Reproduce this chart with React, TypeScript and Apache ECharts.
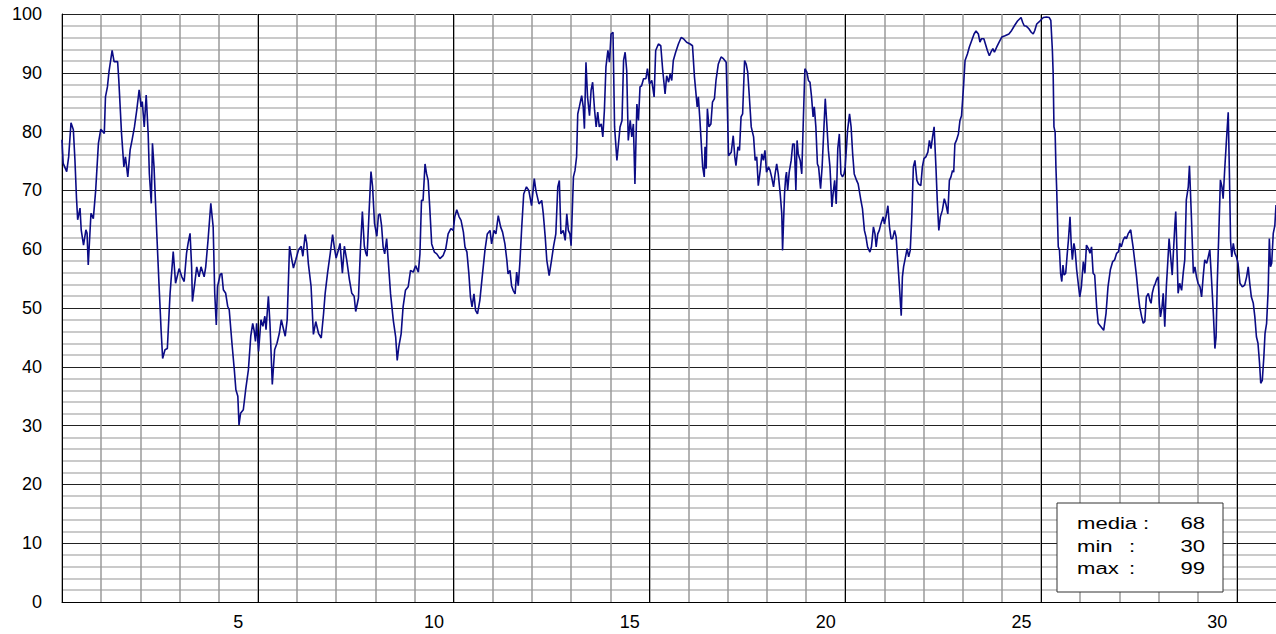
import React, { useEffect, useRef } from 'react';
import * as echarts from 'echarts';

// Day labels (categories) for the bottom axis
const dayLabels = ['1','2','3','4','5','6','7','8','9','10','11','12','13','14','15','16','17','18','19','20','21','22','23','24','25','26','27','28','29','30','31'];

// y-axis range / ticks
const yMin = 0;
const yMax = 100;
const yStep = 10;

// summary box
const statLabels = ['media', 'min', 'max'];
const statValues = [68, 30, 99];

// series: [day offset, value]
const days01to04 = [
  [0,78.6],[0.03,74.6],[0.12,73.2],[0.17,75.7],[0.23,81.5],[0.29,80.3],[0.33,75.2],[0.37,68.7],[0.40,65],[0.46,67],[0.49,63.3],[0.55,60.7],[0.61,63.3],[0.64,62.7],[0.67,57.3],[0.74,66.1],[0.80,65.2],[0.86,70],[0.93,78],[0.99,80.4],
  [1.08,79.7],[1.11,85.9],[1.16,87.6],[1.20,90.2],[1.28,93.8],[1.33,91.9],[1.42,91.9],[1.45,88.8],[1.52,79.7],[1.58,74],[1.62,75.7],[1.68,72.3],[1.74,76.9],[1.79,78.6],[1.85,80.8],[1.91,83.7],[1.97,87.1],
  [2.02,84.2],[2.05,85.1],[2.10,80.8],[2.15,86.2],[2.20,79.7],[2.23,72.9],[2.28,67.8],[2.31,78],[2.35,74],[2.42,62.7],[2.48,53.6],[2.53,46.3],[2.57,41.4],[2.63,42.9],[2.69,43.1],[2.76,52.5],[2.84,59.6],[2.90,54.2],[2.99,56.7],
  [3.06,55.3],[3.12,54.5],[3.18,59.3],[3.22,61],[3.27,62.7],[3.31,57],[3.33,51.1],[3.39,54.2],[3.44,57],[3.50,55.3],[3.55,57],[3.63,55.3],[3.67,57],[3.73,61.6],[3.80,67.8],[3.86,63.8],[3.90,52.5],[3.94,47.1],[3.97,53.6]
];

const days05to08 = [
  [4.04,55.7],[4.08,55.9],[4.12,53.1],[4.18,52.5],[4.23,50.3],[4.27,49.7],[4.34,44],[4.40,39.5],[4.44,36.1],[4.49,35],[4.52,30.1],[4.56,32.1],[4.63,32.7],[4.69,36.1],[4.76,39.5],[4.82,45.2],[4.87,47.4],[4.91,46],[4.94,44.3],[4.97,47.4],
  [5.02,42.6],[5.08,48],[5.13,46.9],[5.18,48.6],[5.21,46.3],[5.27,52],[5.31,47.4],[5.37,37],[5.43,42.9],[5.49,44],[5.55,45.7],[5.60,48],[5.66,46.3],[5.70,45.2],[5.75,48],[5.81,60.5],[5.87,58.2],[5.91,56.8],[5.97,58.2],
  [6.04,59.9],[6.11,60.5],[6.15,58.8],[6.21,62.5],[6.25,61],[6.29,57.6],[6.36,53.7],[6.42,45.5],[6.48,47.7],[6.55,45.7],[6.62,44.9],[6.68,49.1],[6.72,52.5],[6.78,55.9],[6.85,59.3],[6.91,62.5],[6.95,60.5],
  [7.0,58.5],[7.06,59.9],[7.10,61],[7.16,55.9],[7.21,60.5],[7.27,58.2],[7.34,54.8],[7.40,52.5],[7.46,52],[7.50,49.4],[7.57,51.7],[7.62,59.9],[7.67,66.4],[7.72,60.5],[7.76,59.3],[7.79,58.8],[7.84,66.1],[7.89,73.2],[7.93,70.7],[7.98,64.4]
];

const days09to12 = [
  [8.04,62.2],[8.08,65.8],[8.12,66],[8.16,64],[8.20,60.4],[8.24,59.2],[8.29,61.8],[8.33,58.1],[8.39,52.4],[8.46,47.9],[8.52,45.1],[8.56,41.1],[8.60,43.4],[8.66,45.6],[8.71,50.2],[8.77,53],[8.84,53.6],[8.90,56.4],[8.97,56.1],
  [9.03,57.2],[9.10,56.1],[9.14,59.2],[9.18,68.3],[9.22,68.3],[9.27,74.5],[9.31,72.8],[9.35,71.7],[9.39,67.2],[9.44,60.9],[9.51,59.5],[9.57,59.2],[9.65,58.4],[9.73,58.9],[9.80,60.1],[9.86,62.6],[9.93,63.5],[9.99,63.2],
  [10.03,65.5],[10.08,66.7],[10.14,65.5],[10.19,64.9],[10.25,62.9],[10.29,60.4],[10.34,59.5],[10.39,55.8],[10.43,51.9],[10.47,50.2],[10.52,52.4],[10.56,49.6],[10.61,49],[10.67,51.3],[10.73,55.3],[10.80,59.8],[10.86,62.6],[10.93,63.2],[10.97,60.9],
  [11.03,63.2],[11.08,62.6],[11.14,65.7],[11.20,63.8],[11.25,62.9],[11.31,60.9],[11.36,58.1],[11.39,55.8],[11.44,56.4],[11.48,53.8],[11.52,53],[11.57,52.4],[11.61,56.1],[11.65,53.8],[11.69,57.5],[11.74,63.8],[11.79,69.4],[11.86,70.6],[11.92,70],[11.99,67.4]
];

const days13to16 = [
  [12.06,72],[12.10,70],[12.18,67.7],[12.25,68.3],[12.29,66],[12.34,62],[12.38,58.1],[12.44,55.5],[12.50,58.1],[12.55,60.4],[12.61,62.6],[12.66,70.6],[12.70,71.7],[12.74,62.6],[12.80,63.2],[12.85,61.5],[12.89,66],[12.93,63.2],[12.97,62.6],
  [13.0,60.6],[13.06,72.3],[13.10,73.4],[13.14,75.7],[13.17,83],[13.21,84.2],[13.27,86.1],[13.31,84.2],[13.34,80.5],[13.38,91.8],[13.42,85.9],[13.47,82.7],[13.51,87],[13.55,88.4],[13.60,83.6],[13.64,80.8],[13.68,83.3],[13.72,80.8],[13.77,81.3],[13.81,79.1],[13.85,83.6],[13.89,91],[13.94,93.8],[13.98,91.8],
  [14.02,96.6],[14.07,96.9],[14.11,80.8],[14.17,75.1],[14.21,77.9],[14.25,80.8],[14.30,81.9],[14.34,92.1],[14.38,93.5],[14.42,90.4],[14.46,78.5],[14.51,81.9],[14.55,79.1],[14.59,81.3],[14.63,71.1],[14.68,84.7],[14.72,81.9],[14.76,87.6],[14.80,87.8],[14.85,89],[14.91,89],[14.95,90.7],
  [15.0,88.1],[15.06,88.7],[15.12,85.9],[15.16,93.8],[15.23,94.9],[15.29,94.6],[15.34,90.4],[15.40,86.4],[15.44,89.5],[15.49,88.4],[15.53,89.8],[15.57,88.7],[15.61,92.1],[15.67,93.5],[15.74,94.9],[15.81,96],[15.87,95.8],[15.95,95.2],
  [16.04,94.9],[16.10,94.6],[16.15,89.3]
];

const days17to20 = [
  [16.22,84.2],[16.25,85.9],[16.29,81.9],[16.34,76.2],[16.36,74],[16.40,72.3],[16.42,77.4],[16.45,73.7],[16.48,83.9],[16.52,80.8],[16.57,81.3],[16.61,85],[16.66,85.6],[16.70,88.7],[16.76,91.5],[16.83,92.7],[16.89,92.4],[16.96,91.8],[16.99,84.2],
  [17.02,75.9],[17.09,76.5],[17.14,79.3],[17.18,75.7],[17.21,74.2],[17.26,77.4],[17.30,76.8],[17.34,82.5],[17.38,83],[17.43,92.1],[17.47,91.5],[17.51,90.1],[17.55,86.1],[17.60,80.8],[17.66,79.1],[17.70,75.1],[17.74,75.7],[17.78,70.8],[17.83,73.4],[17.87,76.2],[17.91,75.1],[17.95,76.8],[17.99,73.1],
  [18.04,74],[18.08,73.4],[18.12,72.3],[18.17,70.6],[18.21,72.8],[18.25,74.5],[18.29,72.8],[18.34,69.4],[18.38,66],[18.40,59.8],[18.45,69.4],[18.48,72.3],[18.50,73.1],[18.53,70],[18.57,73.1],[18.62,75.1],[18.66,77.9],[18.70,77.9],[18.74,70],[18.77,78.5],[18.80,76.2],[18.85,75.1],[18.89,72.8],[18.93,81.9],[18.97,90.7],
  [19.02,90.1],[19.06,88.7],[19.10,88.4],[19.14,85.9],[19.18,82.5],[19.21,84.2],[19.25,80.8],[19.29,74.5],[19.32,74],[19.37,70.3],[19.41,74],[19.49,85.6],[19.53,81.3],[19.57,76.8],[19.61,74],[19.66,67.2],[19.69,69.4],[19.73,71.7],[19.77,67.7],[19.81,77.1],[19.85,79.6],[19.89,72.8],[19.93,72.3],[19.97,72.8],
  [20.0,74],[20.06,80.2],[20.11,83],[20.15,80.8],[20.19,76.2],[20.23,72.8],[20.29,71.7],[20.33,71.1],[20.38,69.1]
];

const days21to25 = [
  [20.40,68.3],[20.44,66.9],[20.49,63.2],[20.53,62.1],[20.57,60.4],[20.63,59.5],[20.67,60.4],[20.72,63.8],[20.76,62.6],[20.79,60.4],[20.83,62.6],[20.87,63.2],[20.91,64.3],[20.97,65.5],
  [21.0,64.3],[21.04,65.5],[21.09,67.4],[21.13,63.8],[21.17,61.8],[21.21,61.8],[21.26,63.2],[21.30,62.1],[21.34,58.1],[21.38,54.1],[21.43,48.7],[21.46,55.3],[21.49,57],[21.54,58.7],[21.58,60.1],[21.62,58.7],[21.66,59.8],[21.70,65.5],[21.74,74],[21.78,75.1],[21.83,71.7],[21.87,71.1],[21.93,70.8],[21.97,74],
  [22.01,75.4],[22.06,75.7],[22.11,76.5],[22.15,78.5],[22.19,77.1],[22.23,79.1],[22.27,80.8],[22.32,73.4],[22.35,68.3],[22.39,63.2],[22.43,65.5],[22.48,66.6],[22.53,68.6],[22.57,67.7],[22.62,66],[22.66,71.7],[22.70,72.3],[22.74,73.4],[22.77,73.1],[22.80,77.9],[22.84,78.5],[22.89,79.6],[22.93,81.9],[22.97,82.7],
  [23.02,87.6],[23.06,92.1],[23.12,93.2],[23.17,94.4],[23.23,95.5],[23.29,96.6],[23.34,97.1],[23.40,96.6],[23.44,95.2],[23.48,95.8],[23.54,95.8],[23.58,94.9],[23.63,93.8],[23.68,92.9],[23.72,93.5],[23.77,94.1],[23.81,93.5],[23.87,94.4],[23.93,95.2],
  [24.0,96.1],[24.08,96.3],[24.18,96.6],[24.25,97.2],[24.32,98],[24.40,98.8],[24.49,99.4],[24.53,98.6],[24.57,98],[24.63,97.9],[24.69,97.5],[24.75,96.9],[24.80,96.6],[24.84,97.2],[24.89,98.3],[24.97,98.8],
  [25.06,99.4],[25.14,99.5],[25.21,99.4],[25.25,98.9],[25.29,93.8],[25.31,89.8],[25.33,80.8],[25.36,79.9],[25.38,74],[25.40,70.1],[25.44,60.4],[25.47,59.9],[25.50,55.9]
];

const days26to31 = [
  [25.53,54.5],[25.56,57.3],[25.59,55.6],[25.63,55.9],[25.67,59.3],[25.70,61.6],[25.74,65.5],[25.77,61],[25.80,58.2],[25.84,61],[25.87,59.9],[25.91,56.5],[25.95,54.2],[25.99,51.9],
  [26.03,53.6],[26.08,57.9],[26.12,55.9],[26.16,60.7],[26.21,60.1],[26.25,59.3],[26.29,60.4],[26.33,55.9],[26.37,55.6],[26.42,50.2],[26.46,47.4],[26.53,46.8],[26.60,46.2],[26.66,49.1],[26.71,53.6],[26.77,56.5],[26.83,57.9],[26.88,58.2],[26.93,59.3],[26.98,59.6],
  [27.01,61],[27.05,60.4],[27.10,61.6],[27.14,62.1],[27.18,61.8],[27.23,62.7],[27.29,63.3],[27.32,61.8],[27.35,60.4],[27.40,57.6],[27.44,55.3],[27.48,52.5],[27.52,50.2],[27.57,48.5],[27.61,47.4],[27.65,47.7],[27.69,51.9],[27.74,52.5],[27.78,51.3],[27.81,50.8],[27.84,52.5],[27.88,53.6],[27.92,54.2],[27.96,55],[27.99,55.3],
  [28.02,50.8],[28.05,48.5],[28.09,50.2],[28.12,52.5],[28.16,46.8],[28.20,53.6],[28.24,58.2],[28.27,61.8],[28.31,58.7],[28.35,55.6],[28.37,58.2],[28.42,64.4],[28.44,66.4],[28.48,57.6],[28.50,52.5],[28.54,54.2],[28.59,53],[28.63,55.9],[28.67,58.2],[28.71,68.4],[28.76,70.6],[28.79,74.2],[28.84,65.5],[28.89,55.9],[28.93,57],[28.97,55.3],
  [29.01,54.2],[29.06,53.6],[29.10,51.9],[29.14,55.3],[29.18,58.2],[29.23,57.6],[29.27,58.7],[29.31,59.9],[29.35,55.3],[29.40,49.1],[29.44,43.1],[29.47,45.1],[29.50,54.2],[29.54,62.7],[29.58,71.8],[29.62,70.6],[29.65,68.6],[29.69,73.5],[29.73,78],[29.78,83.3],[29.81,73],[29.84,61.4],[29.87,58.7],[29.91,61],[29.95,59.3],[29.99,58.7],
  [30.03,57.6],[30.08,54.2],[30.14,53.6],[30.20,53.9],[30.25,55.3],[30.29,57],[30.33,54.2],[30.37,51.9],[30.42,50.8],[30.46,48.5],[30.50,45.1],[30.54,44],[30.58,40.6],[30.61,37.2],[30.65,37.7],[30.69,41.7],[30.72,45.7],[30.76,47.4],[30.80,53],[30.83,61.8],[30.86,57],[30.89,57.6],[30.93,62.7],[30.97,64],[31.0,67.5]
];

const FONT = '"Liberation Sans", Arial, sans-serif';

export default function App() {
  const ref = useRef<HTMLDivElement>(null);

  useEffect(() => {
    if (!ref.current) return;
    const chart = echarts.init(ref.current, null, { renderer: 'svg' });
    const data = [
      ...days01to04, ...days05to08, ...days09to12, ...days13to16,
      ...days17to20, ...days21to25, ...days26to31,
    ];

    const boxX = 1057, boxY = 503, boxW = 166, boxH = 89;
    const rowY = [523, 545.5, 567.5];
    const colonX = [1143, 1129, 1129];
    const statTexts: any[] = [];
    statLabels.forEach((lab, i) => {
      statTexts.push({
        type: 'text', x: 1077, y: rowY[i], scaleX: 1.3, z: 101,
        style: { text: lab, fill: '#000', font: `17px ${FONT}`, textAlign: 'left', textVerticalAlign: 'middle' },
      });
      statTexts.push({
        type: 'text', x: colonX[i], y: rowY[i], scaleX: 1.3, z: 101,
        style: { text: ':', fill: '#000', font: `17px ${FONT}`, textAlign: 'left', textVerticalAlign: 'middle' },
      });
      statTexts.push({
        type: 'text', x: 1205, y: rowY[i], scaleX: 1.3, z: 101,
        style: { text: String(statValues[i]), fill: '#000', font: `17px ${FONT}`, textAlign: 'right', textVerticalAlign: 'middle' },
      });
    });

    const option: any = {
      animation: false,
      backgroundColor: '#ffffff',
      grid: { left: 62, right: 0, top: 14, bottom: 32, containLabel: false },
      xAxis: [
        {
          type: 'value', min: 0, max: 31, interval: 1, position: 'bottom',
          axisLine: { show: true, onZero: false, lineStyle: { color: '#000', width: 1 } },
          axisTick: { show: false }, axisLabel: { show: false },
          splitLine: { show: true, showMaxLine: false, lineStyle: { color: '#9a9a9a', width: 1.5 } },
        },
        {
          type: 'value', min: 0, max: 31, interval: 5, position: 'bottom',
          axisLine: { show: false }, axisTick: { show: false }, axisLabel: { show: false },
          splitLine: { show: true, showMaxLine: false, lineStyle: { color: '#000', width: 1 } },
        },
        {
          type: 'category', data: dayLabels, position: 'bottom', boundaryGap: true,
          axisLine: { show: false }, axisTick: { show: false }, splitLine: { show: false },
          axisLabel: {
            interval: (idx: number) => (idx + 1) % 5 === 0,
            color: '#000', fontSize: 18, fontFamily: FONT, margin: 11,
          },
        },
      ],
      yAxis: {
        type: 'value', min: yMin, max: yMax, interval: yStep,
        axisLine: { show: true, onZero: false, lineStyle: { color: '#000', width: 1 } },
        axisTick: { show: false },
        axisLabel: { color: '#000', fontSize: 18, fontFamily: FONT, margin: 20 },
        splitLine: { show: true, lineStyle: { color: '#222', width: 1 } },
        minorTick: { show: false, splitNumber: 5 },
        minorSplitLine: { show: true, lineStyle: { color: '#b8b8b8', width: 1.5 } },
      },
      series: [
        {
          type: 'line', xAxisIndex: 0, yAxisIndex: 0, data,
          showSymbol: false, symbol: 'none', z: 5,
          lineStyle: { color: '#0b0b85', width: 1.6 },
        },
      ],
      graphic: [
        {
          type: 'rect', z: 100,
          shape: { x: boxX, y: boxY, width: boxW, height: boxH },
          style: { fill: '#fff', stroke: '#333', lineWidth: 1 },
        },
        ...statTexts,
      ],
    };
    chart.setOption(option);
    return () => chart.dispose();
  }, []);

  return (
    <div
      ref={ref}
      style={{ position: 'absolute', left: 0, top: 0, width: 1276, height: 634, background: '#fff' }}
    />
  );
}
